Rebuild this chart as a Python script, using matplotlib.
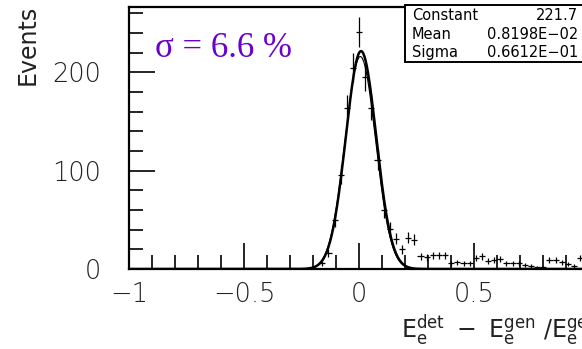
import numpy as np
import matplotlib.pyplot as plt
from matplotlib.ticker import MultipleLocator

# 75 bins over [-1, 1]; only non-empty bins listed (offset from the bin at 0)
nbins = 75
bin_offset = [-6, -5, -4, -3, -2, -1, 0, 1, 2, 3, 4, 5, 6, 7, 8, 9,
              10, 11, 12, 13, 14, 15, 16, 17, 18, 19, 20, 21, 22, 23, 24, 25,
              26, 27, 28, 29, 30, 31, 32, 33, 34, 35, 36]
events = [6, 16, 50, 96, 164, 205, 241, 195, 164, 111, 60, 41, 31, 20, 32, 30,
          13, 12, 14, 14, 14, 6, 7, 6, 6, 11, 13, 8, 9, 10, 6, 6,
          6, 4, 3, 2, 2, 9, 9, 7, 5, 3, 11]

# gaussian fit results
fit_const = 221.7
fit_mean = 0.8198e-02
fit_sigma = 0.6612e-01

width = 2.0 / nbins
centers = np.array([(o + 37 + 0.5) * width - 1.0 for o in bin_offset])
counts = np.array(events, dtype=float)

fig = plt.figure(figsize=(5.82, 3.49), dpi=100)
ax = fig.add_axes([0.2216, 0.2292, 0.791, 0.752])

ax.errorbar(centers, counts, xerr=width / 2, yerr=np.sqrt(counts),
            fmt='none', ecolor='black', elinewidth=0.9, capsize=0)

xx = np.linspace(-1, 1, 800)
ax.plot(xx, fit_const * np.exp(-0.5 * ((xx - fit_mean) / fit_sigma) ** 2),
        color='black', lw=1.8)
ax.plot(xx, 0.975 * fit_const * np.exp(-0.5 * ((xx - fit_mean + 0.003) / fit_sigma) ** 2),
        color='black', lw=0.8)

ax.set_xlim(-1, 1)
ax.set_ylim(0, 267)
ax.xaxis.set_major_locator(MultipleLocator(0.5))
ax.xaxis.set_minor_locator(MultipleLocator(0.1))
ax.yaxis.set_major_locator(MultipleLocator(100))
ax.yaxis.set_minor_locator(MultipleLocator(20))
ax.tick_params(which='both', direction='in', top=False, right=False, width=1.2)
ax.tick_params(which='major', length=19, labelsize=18.5)
ax.tick_params(axis='x', which='major', pad=9)
ax.tick_params(axis='y', which='major', pad=20)
ax.tick_params(which='minor', length=10)
ax.set_xticks([-1, -0.5, 0, 0.5], labels=['\u22121', '\u22120.5', '0', '0.5'])
for lab in ax.get_xticklabels() + ax.get_yticklabels():
    lab.set_fontfamily('DejaVu Sans')
    lab.set_fontweight('light')
    lab.set_color('#222222')
for s in ax.spines.values():
    s.set_linewidth(1.6)

fig.text(0.048, 0.985, 'Events', rotation=90, ha='center', va='top',
         fontsize=17, color='#222222')
fig.text(0.689, 0.03, r'$\mathregular{E_e^{det}\ -\ E_e^{gen}\ /E_e^{gen}}$',
         ha='left', va='baseline', fontsize=17, color='#222222')

fig.text(0.266, 0.862, '\u03c3 = 6.6 %', fontsize=25, color='#6a00d0',
         family='Liberation Serif', ha='left', va='center')

# stats box
box = plt.Rectangle((0.696, 0.822), 0.32, 0.165, transform=fig.transFigure,
                    facecolor='white', edgecolor='black', lw=1.4, zorder=5)
fig.add_artist(box)
names = ['Constant', 'Mean', 'Sigma']
vals = ['221.7', '0.8198E\u221202', '0.6612E\u221201']
for i in range(3):
    y = 0.955 - i * 0.053
    fig.text(0.708, y, names[i], fontsize=10.5, va='center', ha='left', zorder=6)
    fig.text(0.993, y, vals[i], fontsize=10.5, va='center', ha='right', zorder=6)

fig.savefig('out.png', dpi=100)
